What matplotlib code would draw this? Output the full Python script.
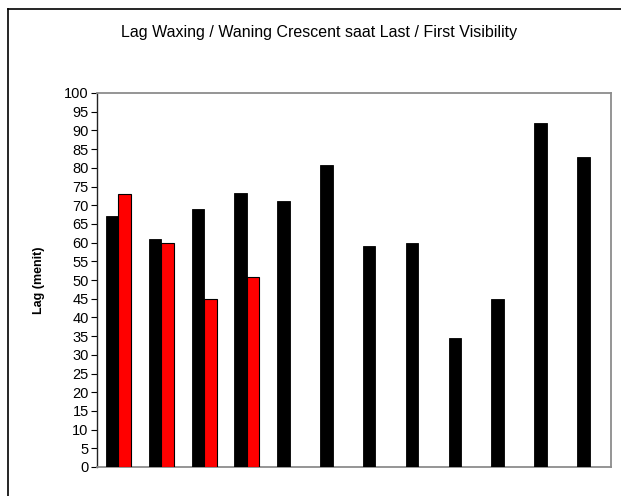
import matplotlib.pyplot as plt
from matplotlib.lines import Line2D
import numpy as np

# values (minutes)
waxing = [67, 61, 69, 73.3, 71.2, 80.7, 59, 60, 34.4, 45, 92, 83]
waning = [73, 60, 45, 50.7]
y_ticks = list(range(0, 101, 5))

title = "Lag Waxing / Waning Crescent saat Last / First Visibility"
ylabel = "Lag (menit)"

plt.rcParams['font.family'] = ['Liberation Sans', 'DejaVu Sans']

fig = plt.figure(figsize=(6.21, 4.96), dpi=100)
ax = fig.add_axes([97 / 621, 1 - 467 / 496, (611 - 97) / 621, (467 - 93) / 496])

x = np.arange(len(waxing))
w = 0.29
ax.bar(x - w / 2, waxing, width=w, color="black", edgecolor="black",
       linewidth=0.6, zorder=3)
xr = np.arange(len(waning))
ax.bar(xr + w / 2, waning, width=w, color="#ff0000", edgecolor="black",
       linewidth=0.8, zorder=3)

ax.set_xlim(-0.5, len(waxing) - 0.5)
ax.set_ylim(0, 100)
ax.set_yticks(y_ticks)
ax.set_xticks([])
ax.tick_params(axis="y", direction="out", length=4, width=0.8,
               labelsize=10.5, pad=2, colors="black")

for side in ("top", "right", "bottom"):
    ax.spines[side].set_color("#8c8c8c")
    ax.spines[side].set_linewidth(1.3)
ax.spines["left"].set_color("#222222")
ax.spines["left"].set_linewidth(1.0)

ax.set_ylabel(ylabel, fontsize=9, fontweight="bold")
ax.yaxis.set_label_coords(-0.101, 0.5)

fig.text(319 / 621, 1 - 33 / 496, title, ha="center", va="center", fontsize=11.5)

# outer chart frame (only left and top edges fall inside the image)
fig.add_artist(Line2D([8 / 621, 8 / 621], [0, 1 - 9 / 496], color="black",
                      linewidth=1.2, transform=fig.transFigure))
fig.add_artist(Line2D([8 / 621, 1], [1 - 9 / 496, 1 - 9 / 496], color="black",
                      linewidth=1.2, transform=fig.transFigure))

fig.savefig("out.png", dpi=100)
